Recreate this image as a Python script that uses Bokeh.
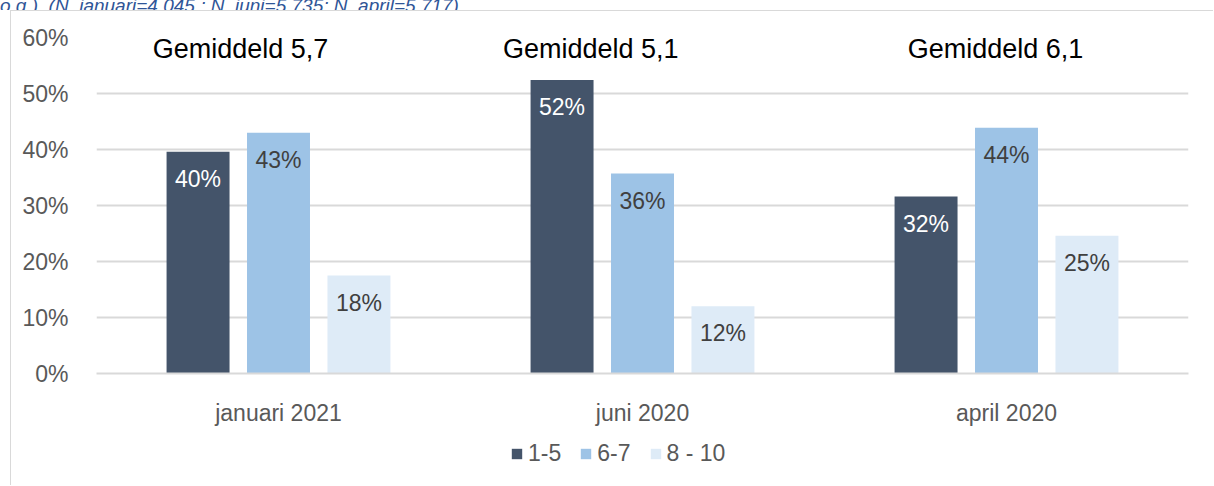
from bokeh.plotting import figure
from bokeh.layouts import column
from bokeh.models import Range1d, FactorRange, Legend, LegendItem, ColumnDataSource, NumeralTickFormatter, FixedTicker, Div
from bokeh.core.properties import value
from bokeh.embed import file_html
from bokeh.resources import INLINE
from bokeh.transform import dodge

categories = ["januari 2021", "juni 2020", "april 2020"]
groups = ["1-5", "6-7", "8 - 10"]
v_1_5 = [0.396, 0.524, 0.316]
v_6_7 = [0.430, 0.357, 0.439]
v_8_10 = [0.175, 0.120, 0.246]
lab_1_5 = ["40%", "52%", "32%"]
lab_6_7 = ["43%", "36%", "44%"]
lab_8_10 = ["18%", "12%", "25%"]
averages = ["Gemiddeld 5,7", "Gemiddeld  5,1", "Gemiddeld 6,1"]
avg_y = [0.58, 0.58, 0.58]
avg_dx = [-38, -48, -11]
caption = "o.g.). (N_januari=4.045 ; N_juni=5.735; N_april=5.717)"

FONT = "Liberation Sans"
colors = ["#44546a", "#9dc3e6", "#deebf7"]
txt_colors = ["#ffffff", "#404040", "#404040"]
BORDER = {"border-left": "1px solid #d9d9d9"}

cap = Div(text=caption, width=1214, height=10, margin=0,
          styles={"overflow": "hidden", "height": "10px"},
          stylesheets=[":host { overflow: hidden; } div { font-family: 'Liberation Sans'; font-style: italic; "
                       "font-size: 19px; color: #2f5597; margin-top: -13px; white-space: nowrap; line-height: 19px; }"])

p = figure(width=1203, height=419, x_range=FactorRange(*categories), y_range=Range1d(0, 0.6),
           output_backend="svg", toolbar_location=None,
           min_border_left=85, min_border_right=26, min_border_top=26, min_border_bottom=57)
p.margin = (0, 0, 0, 10)
p.styles = {"border-left": "1px solid #d9d9d9", "border-top": "1px solid #d9d9d9"}
p.outline_line_color = None
p.background_fill_color = "white"
p.border_fill_color = "white"

src = ColumnDataSource(dict(cat=categories, v1=v_1_5, v2=v_6_7, v3=v_8_10,
                            l1=lab_1_5, l2=lab_6_7, l3=lab_8_10,
                            avg=averages, avg_y=avg_y, avg_dx=avg_dx))

offsets = [-0.221, 0.0, 0.221]
cols = ["v1", "v2", "v3"]
lcols = ["l1", "l2", "l3"]
for off, c, lc, col, tcol in zip(offsets, cols, lcols, colors, txt_colors):
    p.vbar(x=dodge("cat", off, range=p.x_range), top=c, width=0.173, source=src,
           fill_color=col, line_color=None)
    p.text(x=dodge("cat", off, range=p.x_range), y=c, text=lc, source=src,
           text_align="center", text_baseline="middle", y_offset=27,
           text_font=value(FONT), text_font_size="23px", text_color=tcol)

p.text(x="cat", y="avg_y", text="avg", x_offset="avg_dx", source=src,
       text_align="center", text_baseline="middle",
       text_font=value(FONT), text_font_size="27px", text_color="#000000")

p.yaxis.ticker = FixedTicker(ticks=[0, 0.1, 0.2, 0.3, 0.4, 0.5, 0.6])
p.yaxis.formatter = NumeralTickFormatter(format="0%")
p.yaxis.axis_line_color = None
p.yaxis.major_tick_line_color = None
p.yaxis.minor_tick_line_color = None
p.yaxis.major_label_standoff = 22
p.yaxis.major_label_text_font = FONT
p.yaxis.major_label_text_font_size = "23px"
p.yaxis.major_label_text_color = "#595959"

p.xaxis.axis_line_color = "#d9d9d9"
p.xaxis.axis_line_width = 2
p.xaxis.major_tick_line_color = None
p.xaxis.minor_tick_line_color = None
p.xaxis.major_label_standoff = 20
p.xaxis.major_label_text_font = FONT
p.xaxis.major_label_text_font_size = "23px"
p.xaxis.major_label_text_color = "#595959"

p.xgrid.grid_line_color = None
p.ygrid.grid_line_color = "#d9d9d9"
p.ygrid.grid_line_width = 2

# legend strip
pl = figure(width=1203, height=56, x_range=Range1d(0, 1), y_range=Range1d(0, 1),
            output_backend="svg", toolbar_location=None,
            x_axis_location=None, y_axis_location=None,
            min_border_left=0, min_border_right=0, min_border_top=0, min_border_bottom=0)
pl.margin = (0, 0, 0, 10)
pl.styles = dict(BORDER)
pl.outline_line_color = None
pl.grid.visible = False
pl.border_fill_color = "white"
hidden = ColumnDataSource(dict(x=[-5.0], top=[-5.0]))
leg_r = [pl.vbar(x="x", top="top", width=0.1, source=hidden, fill_color=col, line_color=None)
         for col in colors]
legend = Legend(items=[LegendItem(label=g, renderers=[r]) for g, r in zip(groups, leg_r)],
                orientation="horizontal", location=(414, 18),
                glyph_width=13, glyph_height=13, label_standoff=5, spacing=18,
                label_text_font=FONT, label_text_font_size="23px", label_text_color="#595959",
                border_line_color=None, background_fill_alpha=0, padding=0, margin=0)
pl.add_layout(legend, "center")

layout = column(cap, p, pl, spacing=0)
open("out.html", "w").write(file_html(layout, INLINE))
